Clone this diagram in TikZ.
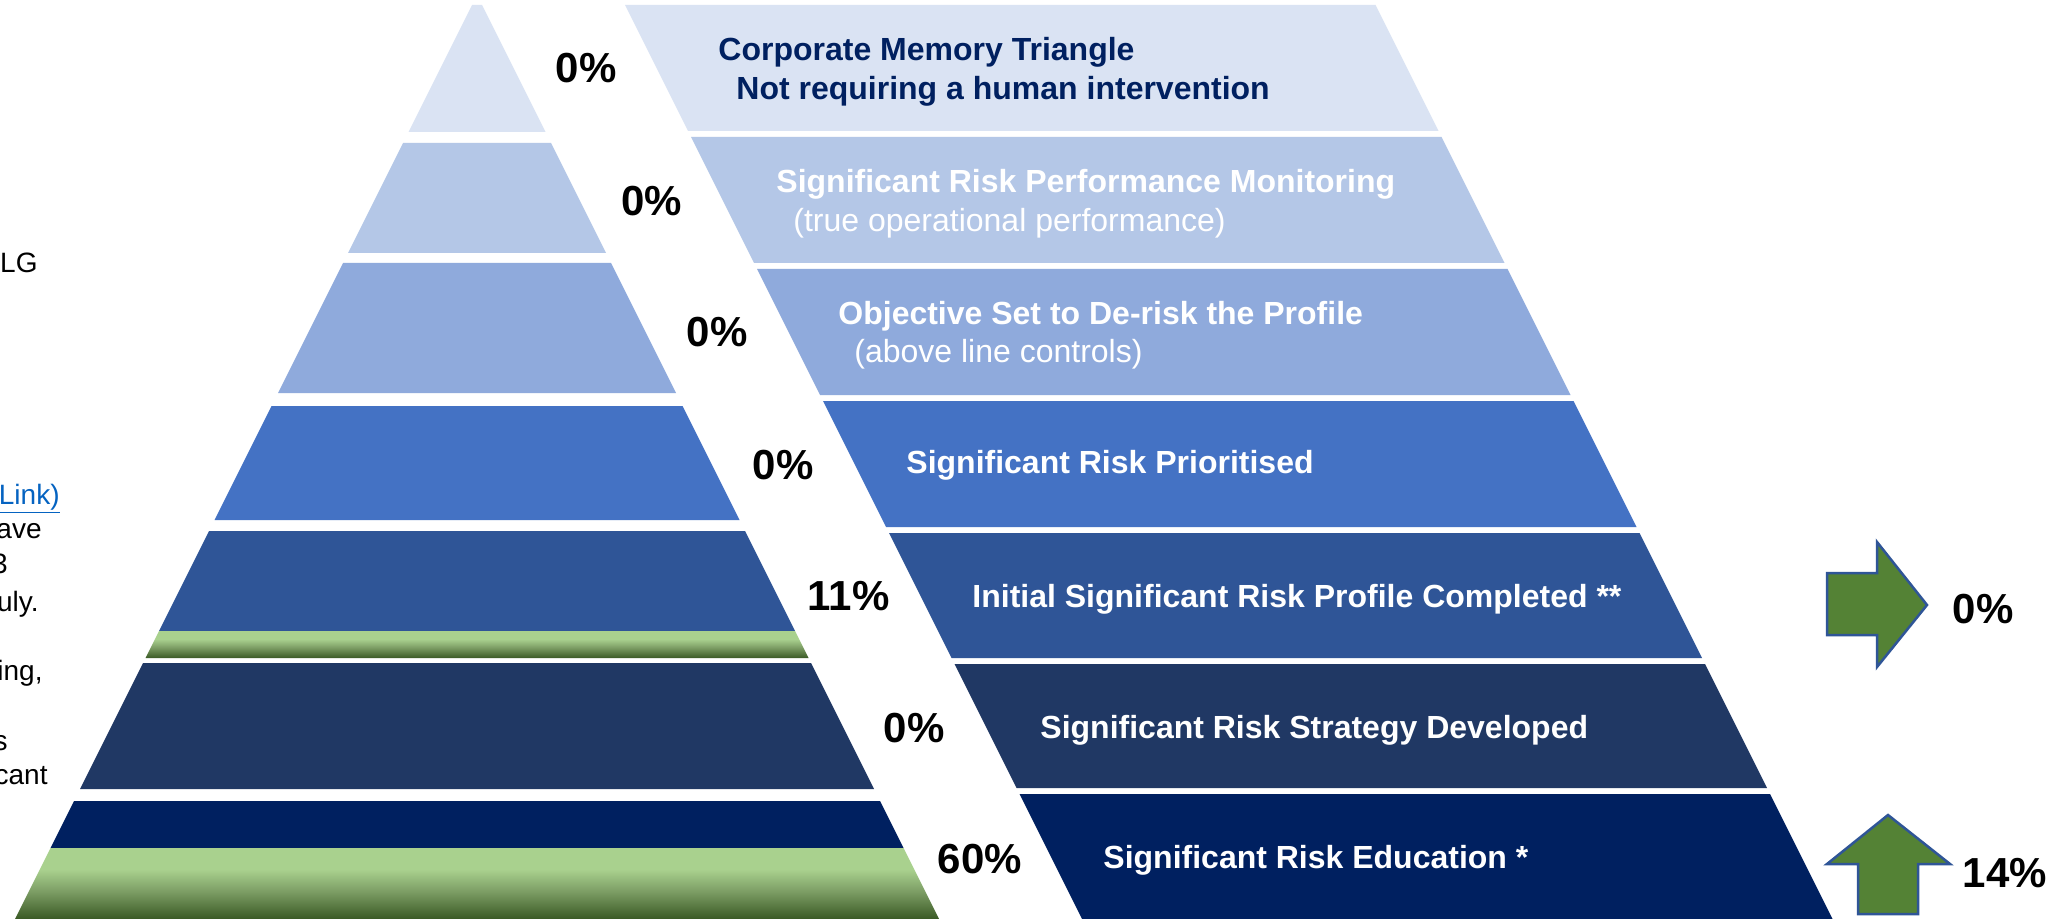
\documentclass[tikz,border=0pt]{standalone}
\usepackage{fontspec}
\setmainfont{Liberation Sans}
\definecolor{c1}{HTML}{DAE3F3}
\definecolor{c2}{HTML}{B4C7E7}
\definecolor{c3}{HTML}{8FAADC}
\definecolor{c4}{HTML}{4472C4}
\definecolor{c5}{HTML}{2F5597}
\definecolor{c6}{HTML}{203864}
\definecolor{c7}{HTML}{002060}
\definecolor{glight}{HTML}{A9D18E}
\definecolor{gmid}{HTML}{7E9F66}
\definecolor{gdark}{HTML}{3A5A25}
\definecolor{arrowfill}{HTML}{548235}
\definecolor{arrowline}{HTML}{2F5597}
\definecolor{navytext}{HTML}{002060}
\definecolor{linkblue}{HTML}{0563C1}
\pgfdeclareverticalshading{greenfade}{100bp}{color(0bp)=(gdark); color(25bp)=(gdark); color(45bp)=(gmid); color(60bp)=(glight); color(100bp)=(glight)}
\newcommand{\lpiece}[3]{\fill[#3] ({474.5-0.5*#1},#1) -- ({479.5+0.5*#1},#1) -- ({479.5+0.5*#2},#2) -- ({474.5-0.5*#2},#2) -- cycle;}
\newcommand{\lgreen}[2]{\shade[shading=greenfade] ({474.5-0.5*#1},#1) -- ({479.5+0.5*#1},#1) -- ({479.5+0.5*#2},#2) -- ({474.5-0.5*#2},#2) -- cycle;}
\newcommand{\rpiece}[3]{\fill[#3] ({622.5+0.5*#1},#1) -- ({1373+0.5*#1},#1) -- ({1373+0.5*#2},#2) -- ({622.5+0.5*#2},#2) -- cycle;}
\tikzset{
  pct/.style={font=\bfseries\fontsize{21}{21}\selectfont, anchor=base, inner sep=0pt},
  lbl/.style={font=\bfseries\fontsize{16}{16}\selectfont, text=white, anchor=base west, inner sep=0pt},
  sublbl/.style={font=\fontsize{16}{16}\selectfont, text=white, anchor=base west, inner sep=0pt},
  frag/.style={font=\fontsize{14}{14}\selectfont, anchor=base east, inner sep=0pt},
  bigarrow/.style={fill=arrowfill, draw=arrowline, line width=1.25pt, line join=miter}
}
\begin{document}
\begin{tikzpicture}[x=0.5pt, y=-0.5pt]
\clip (0,0) rectangle (2054,919);
\fill[white] (0,0) rectangle (2054,919);
% left pieces
\lpiece{5}{132}{c1}
\lpiece{143}{253}{c2}
\lpiece{263}{393}{c3}
\lpiece{406}{520}{c4}
\lpiece{531}{631}{c5}
\lgreen{631}{658}
\lpiece{663}{789}{c6}
\lpiece{801}{848}{c7}
\lgreen{848}{919}
% right pieces
\rpiece{5}{131}{c1}
\rpiece{137}{263}{c2}
\rpiece{269}{395}{c3}
\rpiece{401}{527}{c4}
\rpiece{533}{658}{c5}
\rpiece{664}{788}{c6}
\rpiece{794}{919}{c7}
% percentages
\node[pct] (p1) at (586,83) {0\%};
\node[pct] (p2) at (651.7,216) {0\%};
\node[pct] (p3) at (717.3,347) {0\%};
\node[pct] (p4) at (783,479) {0\%};
\node[pct] (p5) at (848.7,610) {11\%};
\node[pct] (p6) at (914.3,742) {0\%};
\node[pct] (p7) at (980,873) {60\%};
% labels
\node[lbl, text=navytext] (t1a) at (718,61) {Corporate Memory Triangle};
\node[lbl, text=navytext] (t1b) at (736,100) {Not requiring a human intervention};
\node[lbl] (t2a) at (776,193) {Significant Risk Performance Monitoring};
\node[sublbl] (t2b) at (793,232) {(true operational performance)};
\node[lbl] (t3a) at (838,325) {Objective Set to De-risk the Profile};
\node[sublbl] (t3b) at (854,363) {(above line controls)};
\node[lbl] (t4) at (906,473) {Significant Risk Prioritised};
\node[lbl] (t5) at (972,607) {Initial Significant Risk Profile Completed **};
\node[lbl] (t6) at (1040,738) {Significant Risk Strategy Developed};
\node[lbl] (t7) at (1103,868) {Significant Risk Education *};
% arrows
\draw[bigarrow] (1827,573) -- (1877,573) -- (1877,542) -- (1927,605) -- (1877,667) -- (1877,635) -- (1827,635) -- cycle;
\draw[bigarrow] (1888,815) -- (1950,864) -- (1918,864) -- (1918,914) -- (1858,914) -- (1858,864) -- (1827,864) -- cycle;
\node[pct] (a1) at (1983,623) {0\%};
\node[pct] (a2) at (2005,887) {14\%};
% cut-off left text
\node[frag] (f1) at (38,273) {LG};
\node[frag, text=linkblue] (f2) at (60,504) {\underline{Link)}};
\node[frag] (f3) at (42,538) {ave};
\node[frag] (f4) at (8,573) {3};
\node[frag] (f5) at (39,611) {uly.};
\node[frag] (f6) at (43,680) {ing,};
\node[frag] (f7) at (8,750) {s};
\node[frag] (f8) at (48,784) {cant};
\end{tikzpicture}
\end{document}
